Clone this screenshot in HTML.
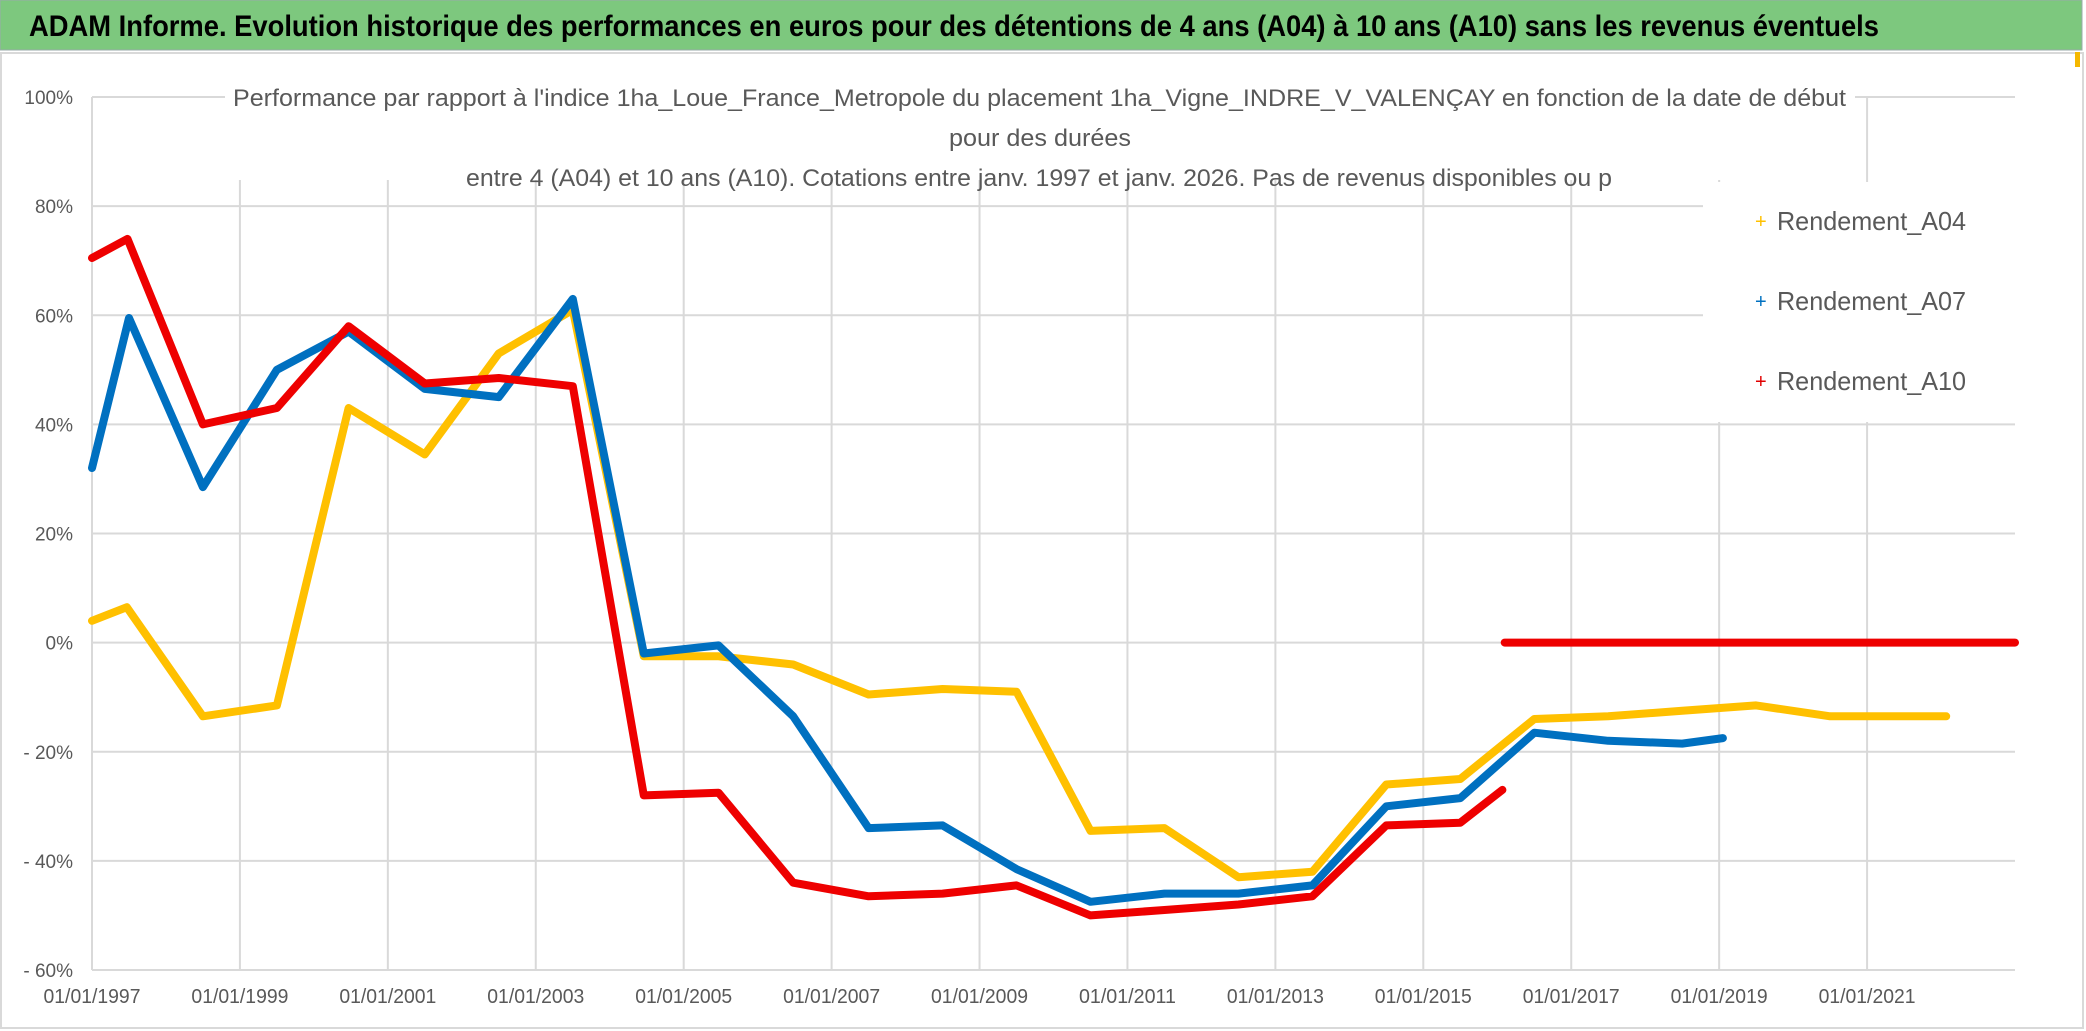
<!DOCTYPE html>
<html><head><meta charset="utf-8"><style>
html,body{margin:0;padding:0;background:#fff;}
svg{display:block;font-family:"Liberation Sans",sans-serif;}
</style></head><body>
<svg id="chart" width="2086" height="1031" viewBox="0 0 2086 1031" xmlns="http://www.w3.org/2000/svg">
<rect x="0" y="0" width="2086" height="1031" fill="#fff"/>
<rect x="0" y="0" width="2082" height="50" fill="#7dc87e" stroke="#9aa" stroke-width="1"/>
<text x="29" y="36" font-size="30" font-weight="bold" fill="#000" textLength="1850" lengthAdjust="spacingAndGlyphs">ADAM Informe. Evolution historique des performances en euros pour des détentions de 4 ans (A04) à 10 ans (A10) sans les revenus éventuels</text>
<rect x="1" y="53" width="2082" height="975" fill="none" stroke="#d9d9d9" stroke-width="2"/>
<rect x="2075" y="52" width="5" height="15" fill="#f5b800"/>
<g id="grid"></g>
<g id="axes"></g>
<g id="series"></g>
<rect x="225" y="76" width="1630" height="104" fill="#fff"/>
<g fill="#595959" font-size="24">
<text x="233" y="106" textLength="1613" lengthAdjust="spacingAndGlyphs">Performance par rapport à l'indice 1ha_Loue_France_Metropole  du placement 1ha_Vigne_INDRE_V_VALENÇAY en fonction de la date de début</text>
<text x="949" y="146" textLength="182" lengthAdjust="spacingAndGlyphs">pour des durées</text>
<text x="466" y="186" textLength="1146" lengthAdjust="spacingAndGlyphs">entre 4 (A04) et 10 ans (A10). Cotations entre janv. 1997 et janv. 2026. Pas de revenus disponibles ou p</text>
</g>
<rect x="1703" y="182" width="312" height="240" fill="#fff"/>
<g font-size="26" fill="#595959">
<g><text x="1755" y="228" fill="#ffc000" font-size="20">+</text><text x="1777" y="230" textLength="189" lengthAdjust="spacingAndGlyphs">Rendement_A04</text></g>
<g><text x="1755" y="308" fill="#0070c0" font-size="20">+</text><text x="1777" y="310" textLength="189" lengthAdjust="spacingAndGlyphs">Rendement_A07</text></g>
<g><text x="1755" y="388" fill="#e00000" font-size="20">+</text><text x="1777" y="390" textLength="189" lengthAdjust="spacingAndGlyphs">Rendement_A10</text></g>
</g>
</svg>
<script>
const yTicks=[100,80,60,40,20,0,-20,-40,-60];
const yTickLabels=["100%","80%","60%","40%","20%","0%","- 20%","- 40%","- 60%"];
const xTickYears=[1997,1999,2001,2003,2005,2007,2009,2011,2013,2015,2017,2019,2021];
const xTickLabels=["01/01/1997","01/01/1999","01/01/2001","01/01/2003","01/01/2005","01/01/2007","01/01/2009","01/01/2011","01/01/2013","01/01/2015","01/01/2017","01/01/2019","01/01/2021"];
const a04Years=[1997,1997.47,1998.5,1999.5,2000.47,2001.5,2002.5,2003.5,2004.46,2005.47,2006.48,2007.5,2008.5,2009.5,2010.5,2011.5,2012.5,2013.5,2014.5,2015.5,2016.5,2017.5,2018.5,2019.5,2020.5,2021.5,2022.07];
const a04Values=[4,6.5,-13.5,-11.5,43,34.5,53,61,-2.5,-2.5,-4,-9.5,-8.5,-9,-34.5,-34,-43,-42,-26,-25,-14,-13.5,-12.5,-11.5,-13.5,-13.5,-13.5];
const a07Years=[1997,1997.5,1998.5,1999.5,2000.47,2001.5,2002.5,2003.5,2004.46,2005.47,2006.48,2007.5,2008.5,2009.5,2010.5,2011.5,2012.5,2013.5,2014.5,2015.5,2016.5,2017.5,2018.5,2019.05];
const a07Values=[32,59.5,28.5,50,57,46.5,45,63,-2,-0.5,-13.5,-34,-33.5,-41.5,-47.5,-46,-46,-44.5,-30,-28.5,-16.5,-18,-18.5,-17.5];
const a10Years=[1997,1997.48,1998.5,1999.5,2000.47,2001.5,2002.5,2003.5,2004.46,2005.47,2006.48,2007.5,2008.5,2009.5,2010.5,2011.5,2012.5,2013.5,2014.5,2015.5,2016.07];
const a10Values=[70.5,74,40,43,58,47.5,48.5,47,-28,-27.5,-44,-46.5,-46,-44.5,-50,-49,-48,-46.5,-33.5,-33,-27];
const a10bYears=[2016.1,2023];
const a10bValues=[0,0];

const NS="http://www.w3.org/2000/svg";
const X0=92,X1=2015,Y0=97,Y1=970,XMIN=1997,XMAX=2023,YMIN=-60,YMAX=100;
const xs=v=>X0+(v-XMIN)/(XMAX-XMIN)*(X1-X0);
const ys=v=>Y1-(v-YMIN)/(YMAX-YMIN)*(Y1-Y0);
function mk(tag,attrs,parent){const e=document.createElementNS(NS,tag);for(const k in attrs)e.setAttribute(k,attrs[k]);parent.appendChild(e);return e;}
const grid=document.getElementById('grid'),axes=document.getElementById('axes'),series=document.getElementById('series');
yTicks.forEach((t,i)=>{
  const l=mk('line',{x1:X0,x2:X1,y1:ys(t),y2:ys(t),stroke:'#d9d9d9','stroke-width':2},grid);
  
  
  const tx=mk('text',{x:73,y:ys(t)+7,'text-anchor':'end','font-size':19,fill:'#595959'},axes);
  tx.textContent=yTickLabels[i];
  
  
});
xTickYears.forEach((t,i)=>{
  const l=mk('line',{x1:xs(t),x2:xs(t),y1:Y0,y2:Y1,stroke:'#d9d9d9','stroke-width':2},grid);
  
  
  const tx=mk('text',{x:xs(t),y:1003,'text-anchor':'middle','font-size':20,fill:'#595959',textLength:97,lengthAdjust:'spacingAndGlyphs'},axes);
  tx.textContent=xTickLabels[i];
  
  
});
function draw(years,vals,color,name){
  const pts=years.map((y,i)=>xs(y).toFixed(1)+','+ys(vals[i]).toFixed(1)).join(' ');
  const p=mk('polyline',{points:pts,fill:'none',stroke:color,'stroke-width':8,'stroke-linejoin':'round','stroke-linecap':'round'},series);
  
  
}
draw(a04Years,a04Values,'#ffc000','series-a04');
draw(a07Years,a07Values,'#0070c0','series-a07');
draw(a10Years,a10Values,'#ee0000','series-a10');
draw(a10bYears,a10bValues,'#ee0000','series-a10-zero');
</script>
</body></html>
